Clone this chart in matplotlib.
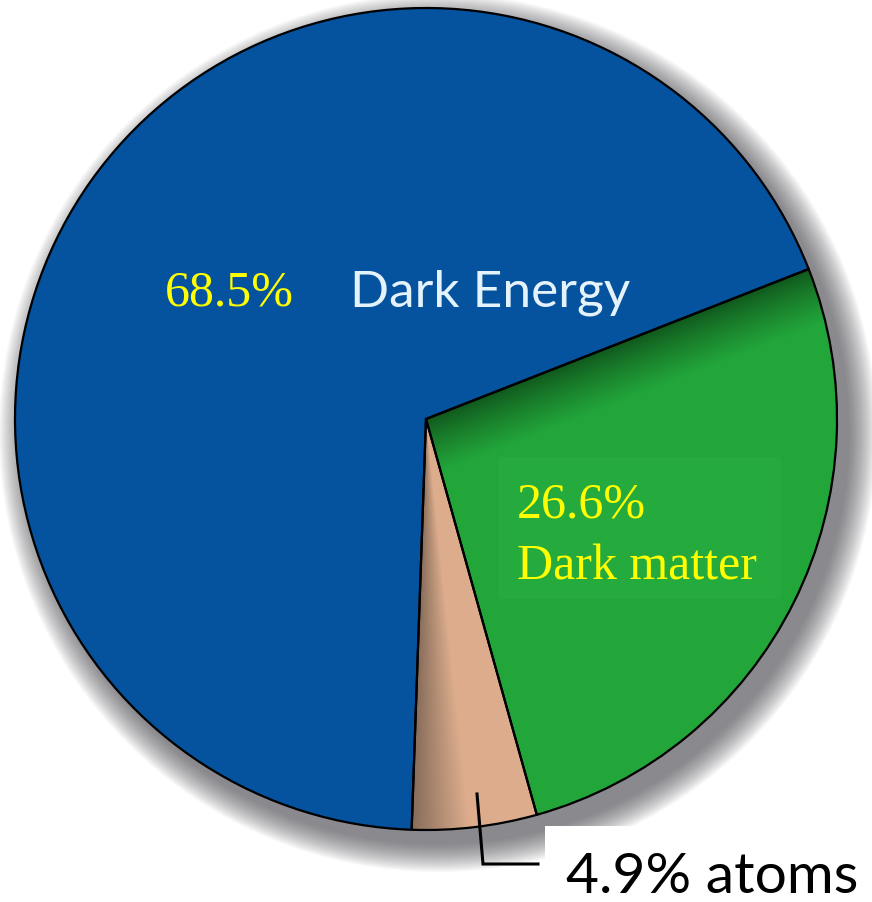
import numpy as np
import matplotlib.pyplot as plt
from matplotlib.patches import Circle, Rectangle

# --- Cosmic budget (percent) -------------------------------------------

components = ["Dark Energy", "atoms", "Dark matter"]
shares     = [68.5, 4.9, 26.6]
colors     = ["#05529e", "#d6a688", "#22a63a"]

W, H = 872, 903
cx, cy, R = 426, H - 420, 411
start = 21.4          # angle where the dark energy wedge begins

fig = plt.figure(figsize=(W / 100, H / 100), dpi=100)
ax = fig.add_axes([0, 0, 1, 1])

# --- soft drop shadow behind the disc ---------------------------------

for k in range(24):
    ax.add_patch(Circle((cx + 12, cy - 14), R + 28 - k * 1.2,
                        color="#404048", alpha=0.035, lw=0, zorder=0))

wedges, _ = ax.pie(shares, colors=colors, startangle=start,
                   counterclock=True, center=(cx, cy), radius=R,
                   wedgeprops=dict(linewidth=0))
for w in wedges:
    w.set_zorder(1)

# --- shading inside the small wedges ---------------------------------

xs = np.arange(0, W) + 0.5
ys = np.arange(0, H) + 0.5
X, Y = np.meshgrid(xs, ys)
ang = np.degrees(np.arctan2(Y - cy, X - cx)) % 360

a_tan0 = start + 360 * shares[0] / 100
a_tan1 = a_tan0 + 360 * shares[1] / 100
a_grn1 = start

# atoms: brown at the dark energy side, light tan further in
t = np.clip((ang - a_tan0) / (a_tan1 - a_tan0), 0, 1)
s = np.clip(t * 2.2, 0, 1)[..., None]
dark = np.array([0x86, 0x6c, 0x5a]) / 255
light = np.array([0xdc, 0xac, 0x8c]) / 255
tan_img = dark * (1 - s) + light * s
ax.imshow(tan_img, extent=(0, W, 0, H), origin="lower",
          zorder=2, clip_path=wedges[1], interpolation="bilinear")

# dark matter: shaded band under the dark energy edge
th = np.radians(a_grn1)
d = (X - cx) * np.sin(th) - (Y - cy) * np.cos(th)
s = np.clip(d / 55, 0, 1)[..., None] ** 0.8
dkg = np.array([0x10, 0x55, 0x1c]) / 255
grn = np.array([0x22, 0xa6, 0x3a]) / 255
grn_img = dkg * (1 - s) + grn * s
ax.imshow(grn_img, extent=(0, W, 0, H), origin="lower",
          zorder=2, clip_path=wedges[2], interpolation="bilinear")

# outlines on top
outl, _ = ax.pie(shares, colors=["none"] * 3, startangle=start,
                 counterclock=True, center=(cx, cy), radius=R,
                 wedgeprops=dict(linewidth=1.6, edgecolor="black"))
for w in outl:
    w.set_zorder(3)

# --- labels ----------------------------------------------------------

serif = "Liberation Serif"
sans = "Lato"

ax.text(165, H - 305, "68.5%", color="#ffff00", fontsize=36,
        family=serif, zorder=5)
ax.text(350, H - 306, "Dark Energy", color="#e4f3fb", fontsize=37,
        family=sans, zorder=5)

ax.add_patch(Rectangle((498, H - 600), 283, 142, color="#25aa3d",
                       lw=0, zorder=4))
ax.text(517, H - 518, "26.6%", color="#ffff00", fontsize=36,
        family=serif, zorder=5)
ax.text(517, H - 579, "Dark matter", color="#ffff00", fontsize=36,
        family=serif, zorder=5)

ax.add_patch(Rectangle((545, 0), W - 545, H - 827, color="white",
                       lw=0, zorder=4))
ax.plot([477, 483, 538], [H - 795, H - 865, H - 865], color="black",
        lw=2.2, zorder=5, solid_joinstyle="miter")
ax.text(566, H - 893, "4.9% atoms", color="black", fontsize=41,
        family=sans, zorder=5)

ax.set_xlim(0, W)
ax.set_ylim(0, H)
ax.set_aspect("equal")
ax.axis("off")

fig.savefig("out.png", dpi=100, facecolor="white")
